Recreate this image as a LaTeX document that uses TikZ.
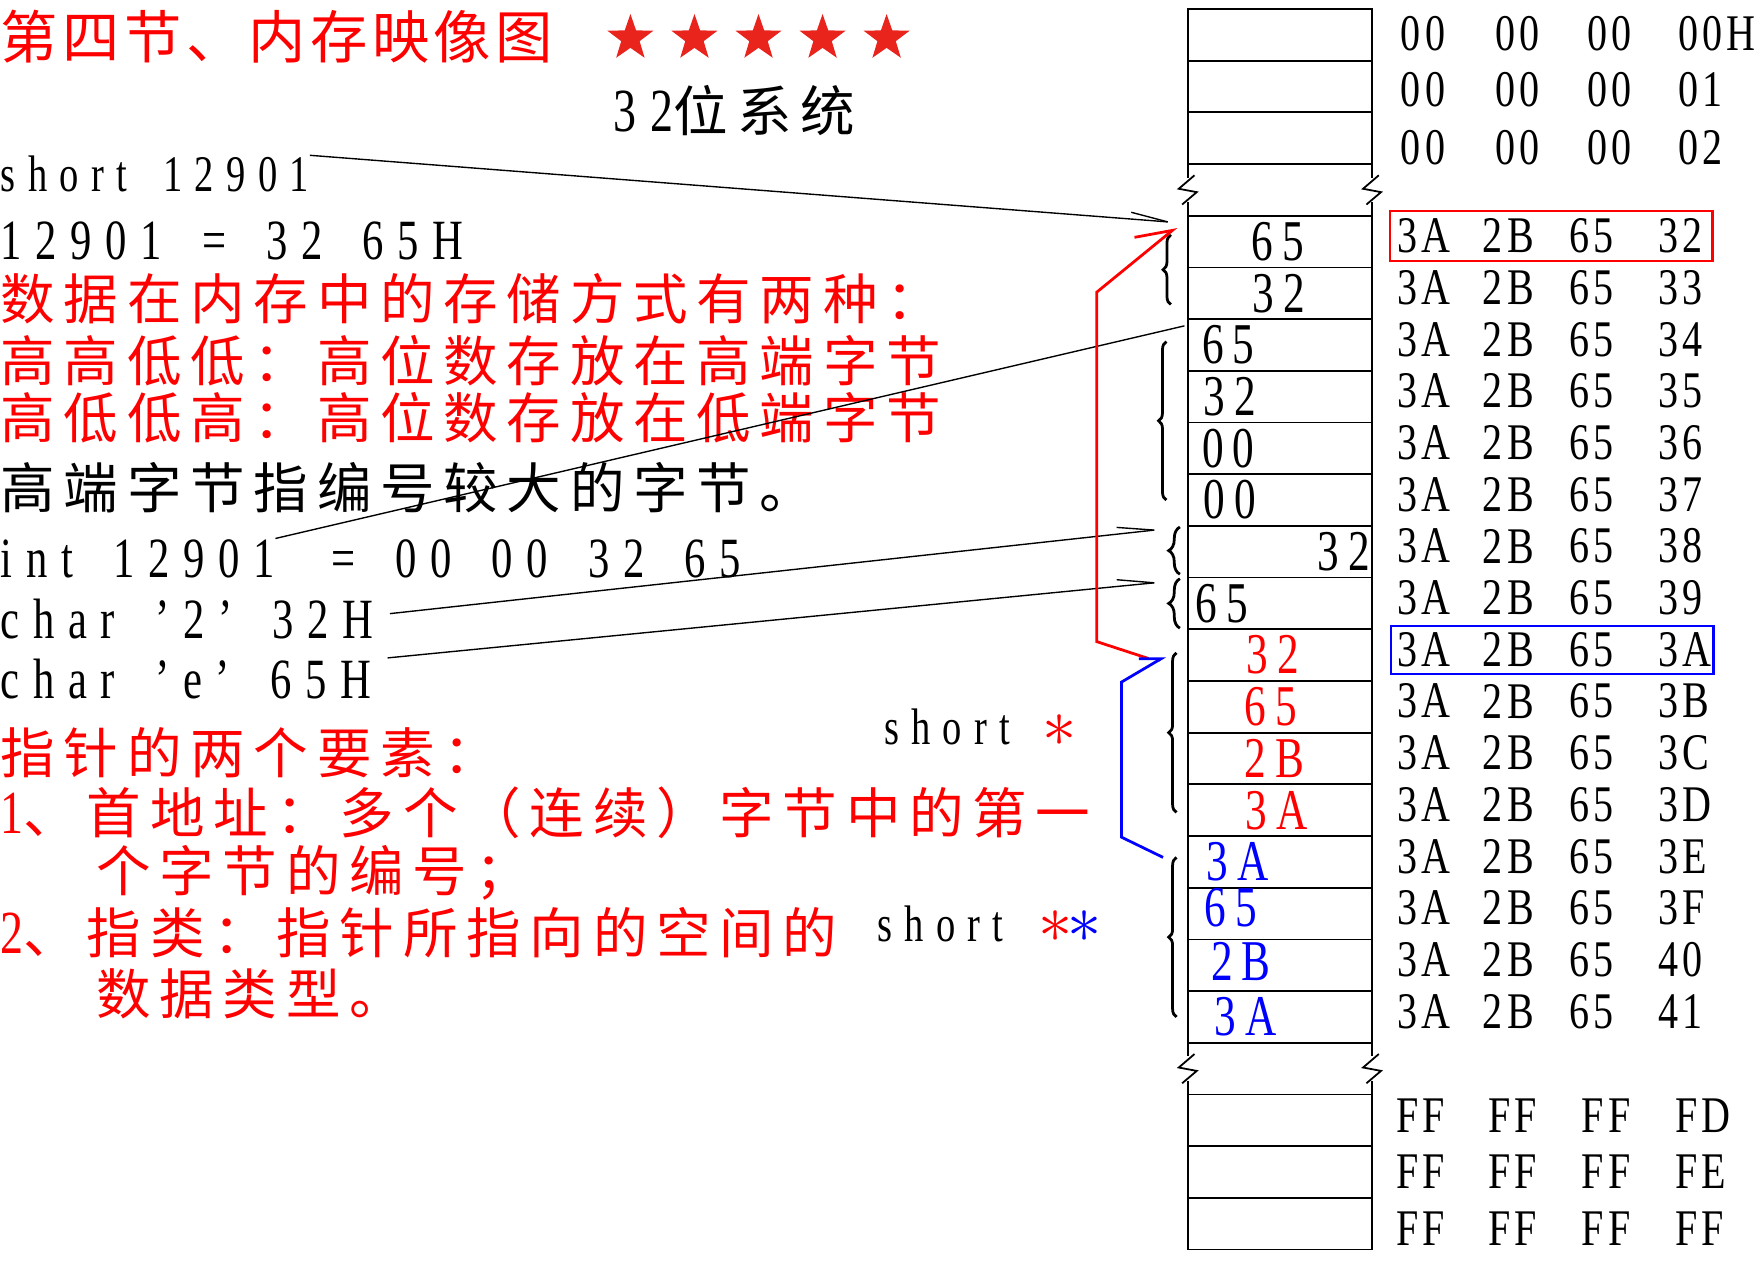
\documentclass[tikz,border=0pt]{standalone}
\usepackage{fontspec}
\usetikzlibrary{shapes.geometric,decorations.pathreplacing,arrows.meta}

\newfontfamily\zh[LetterSpace=16]{Noto Sans CJK SC}
\newfontfamily\zht[LetterSpace=8]{Noto Sans CJK SC}
\newfontfamily\lat[FakeStretch=0.75,LetterSpace=24,WordSpace=1.65]{Liberation Serif}
\newfontfamily\hex[FakeStretch=0.78,LetterSpace=8]{Liberation Serif}
\newfontfamily\hexb[FakeStretch=0.75,LetterSpace=16]{Liberation Serif}
\definecolor{starred}{RGB}{232,36,28}

\tikzset{
  cjk/.style={anchor=west, inner sep=0pt, font=\zh\fontsize{13.8}{16}\selectfont},
  asc/.style={anchor=west, inner sep=0pt, font=\lat\fontsize{14.4}{16}\selectfont},
  ascs/.style={anchor=west, inner sep=0pt, font=\lat\fontsize{13}{15}\selectfont},
  aster/.style={inner sep=0pt, font=\fontsize{19}{21}\selectfont},
  hexa/.style={anchor=west, inner sep=0pt, font=\hex\fontsize{13}{15}\selectfont},
  byte/.style={inner sep=0pt, font=\hexb\fontsize{14.6}{16}\selectfont},
  cell/.style={draw, line width=0.45pt, minimum width=1.64cm, minimum height=0.46cm, inner sep=0pt},
  brk/.style={line width=0.45pt},
  wire/.style={line width=0.35pt},
  ptr/.style={line width=0.7pt},
  fivestar/.style={star, star points=5, star point ratio=2.5, fill=starred, minimum size=0.43cm, inner sep=0pt},
  bartip/.style={-{Straight Barb[left,length=0.33cm,width=0.12cm]}},
}

\begin{document}
\begin{tikzpicture}[x=0.01cm, y=-0.01cm]
\useasboundingbox (0,0) rectangle (1568,1125);

% title line
\node[cjk, font=\zht\fontsize{14.5}{17}\selectfont, text=red] (title) at (0,33) {第四节、内存映像图};
\foreach \i/\sx in {1/561,2/618,3/675,4/732,5/789} {
    \node[fivestar] (star\i) at (\sx,34) {};
}
\node[cjk] (bits) at (545,98) {{\lat\fontsize{15.5}{17}\selectfont 32}位系统};

% text on the left
\node[ascs] (shortv) at (0,155) {short 12901};
\node[asc] (split) at (0,214) {12901 = 32 65H};
\node[cjk, text=red] (way) at (0,266) {数据在内存中的存储方式有两种：};
\node[cjk, text=red] (bigend) at (0,321) {高高低低：高位数存放在高端字节};
\node[cjk, text=red] (litend) at (0,372) {高低低高：高位数存放在低端字节};
\node[cjk] (hinote) at (0,434) {高端字节指编号较大的字节。};
\node[asc] (intv) at (0,497) {int 12901};
\node[asc] (intr) at (294,497) {= 00 00 32 65};
\node[asc] (ch2) at (0,551) {char ’2’ 32H};
\node[asc] (che) at (0,604) {char ’e’ 65H};

% pointer notes
\node[cjk, text=red] (pnote) at (0,670) {指针的两个要素：};
\node[cjk, text=red] (pfirst) at (0,723) {{\lat\fontsize{15.5}{17}\selectfont 1}、首地址：多个（连续）字节中的第一};
\node[cjk, text=red] (pfirstb) at (85,777) {个字节的编号；};
\node[cjk, text=red] (ptype) at (0,830) {{\lat\fontsize{15.5}{17}\selectfont 2}、指类：指针所指向的空间的};
\node[cjk, text=red] (ptypeb) at (85,884) {数据类型。};
\node[ascs] (sp1) at (786,647) {short};
\node[aster, text=red] (sp1a) at (943,650) {$*$};
\node[ascs] (sp2) at (780,822) {short};
\node[aster, text=red] (sp2a) at (939,825) {$*$};
\node[aster, text=blue] (sp2b) at (965,825) {$*$};

% memory cells, rows 3 and 20 are the breaks
\foreach \k in {0,1,2,4,5,...,19,21,22,23} {
    \node[cell] (c\k) at (1139, 31+46*\k) {};
}
\foreach \yc/\yt in {169/146, 951/928} {
  \foreach \sx in {1057,1221} {
    \draw[brk] (\sx,\yt) -- (\sx,\yc-11);
    \draw[brk] (\sx+6,\yc-13) -- (\sx-8,\yc-1) -- (\sx+8,\yc+2) -- (\sx-5,\yc+13);
    \draw[brk] (\sx,\yc+11) -- (\sx,\yt+46);
  }
}

% bytes in the cells
\foreach \k/\v/\c/\a/\xx/\yy in {4/65/black/center/1137/215, 5/32/black/center/1138/261,
    6/65/black/west/1069/307, 7/32/black/west/1070/353, 8/00/black/west/1069/399,
    9/00/black/west/1070/445, 10/32/black/east/1220/491, 11/65/black/west/1063/537,
    12/32/red/center/1133/583, 13/65/red/center/1131/629, 14/2B/red/center/1134/675,
    15/3A/red/center/1136/721, 16/3A/blue/west/1073/767, 17/65/blue/west/1071/808,
    18/2B/blue/west/1077/856, 19/3A/blue/west/1080/905} {
    \node[byte, text=\c, anchor=\a] (v\k) at (\xx,\yy) {\v};
}

% addresses
\foreach \r/\yy/\lo in {0/30/00H,1/80/01,2/131/02} {
    \foreach \j/\cx in {1/1246,2/1330,3/1412}
        \node[hexa] (z\r-\j) at (\cx,\yy) {00};
    \node[hexa] (z\r-4) at (1493,\yy) {\lo};
}
\foreach \k/\lo in {4/32,5/33,6/34,7/35,8/36,9/37,10/38,11/39,12/3A,13/3B,14/3C,15/3D,16/3E,17/3F,18/40,19/41} {
    \foreach \j/\cx/\b in {1/1243/3A,2/1319/2B,3/1396/65}
        \node[hexa] (a\k-\j) at (\cx, 26+46*\k) {\b};
    \node[hexa] (a\k-4) at (1475, 26+46*\k) {\lo};
}
\foreach \r/\yy/\lo in {21/993/FD,22/1043/FE,23/1093/FF} {
    \foreach \j/\cx in {1/1242,2/1324,3/1407}
        \node[hexa] (f\r-\j) at (\cx,\yy) {FF};
    \node[hexa] (f\r-4) at (1490,\yy) {\lo};
}
\draw[red, line width=0.6pt] (1237,188) rectangle (1524,232);
\draw[blue, line width=0.6pt] (1238,557) rectangle (1525,600);

% braces beside the cells
\foreach \bx/\ya/\yb/\amp in {1042/209/271/0.07, 1038/304/445/0.07, 1050/469/511/0.1,
    1050/515/559/0.1, 1047/581/723/0.07, 1047/763/905/0.07} {
    \draw[line width=0.7pt, decorate, decoration={brace, amplitude=\amp cm}] (\bx,\yb) -- (\bx,\ya);
}

% lines to the cells
\coordinate (t4) at (1046,198);
\coordinate (t6) at (1054,290);
\coordinate (t10) at (1034,471);
\coordinate (t11) at (1034,518);
\draw[wire, bartip] (shortv.north east) -- (t4);
\draw[wire] (intv.north east) -- (t6);
\draw[wire, bartip] ([xshift=4pt, yshift=1.4pt]ch2.east) -- (t10);
\draw[wire, bartip] ([xshift=4pt]che.north east) -- (t11);

% short * and short ** pointers
\coordinate (p12) at (1022,586);
\coordinate (q4) at (1047,202);
\draw[ptr, red, -{Straight Barb[left,length=0.3cm,width=0.33cm]}] (p12) -- (976,571) -- (976,260) -- (q4);
\coordinate (p16) at (1035,763);
\coordinate (q12) at (1037,584);
\draw[ptr, blue, -{Straight Barb[left,length=0.17cm,width=0.2cm]}] (p16) -- (998,745) -- (998,607) -- (q12);

\end{tikzpicture}
\end{document}
